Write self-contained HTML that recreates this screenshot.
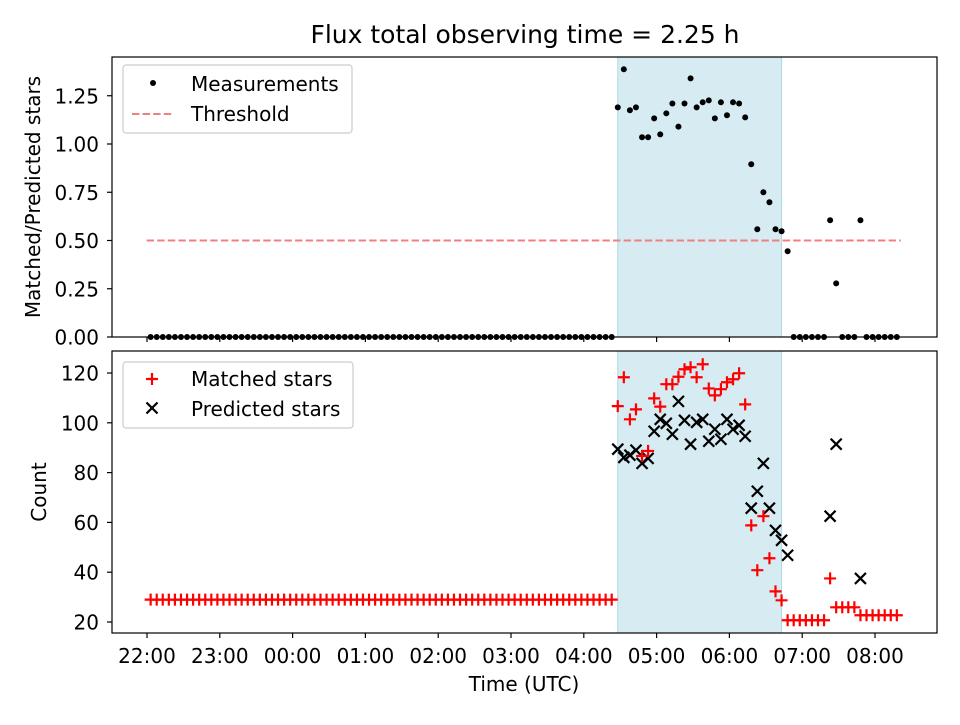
<!DOCTYPE html>
<html><head><meta charset="utf-8"><style>
body{margin:0;background:#fff;}
svg text{font-family:"DejaVu Sans","Liberation Sans",sans-serif;fill:#000;}
</style></head><body>
<svg id="chart" width="960" height="720" xmlns="http://www.w3.org/2000/svg"></svg>
<script>
const times=[3,8,13,18,23,28,33,38,43,48,53,58,63,68,73,78,83,88,93,98,103,108,113,118,123,128,133,138,143,148,153,158,163,168,173,178,183,188,193,198,203,208,213,218,223,228,233,238,243,248,253,258,263,268,273,278,283,288,293,298,303,308,313,318,323,328,333,338,343,348,353,358,363,368,373,378,383,388,393,398,403,408,413,418,423,428,433,438,443,448,453,458,463,468,473,478,483,488,493,498,503,508,513,518,523,528,533,538,543,548,553,558,563,568,573,578,583,588,593,598,603,608,613,618];
const ratioTail=[1.19,1.387,1.175,1.19,1.035,1.035,1.133,1.05,1.159,1.21,1.09,1.21,1.34,1.19,1.216,1.226,1.133,1.216,1.149,1.216,1.21,1.138,0.895,0.558,0.75,0.698,0.558,0.548,0.444,0,0,0,0,0,0,0.605,0.278,0,0,0,0.605,0,0,0,0,0,0];
const matchedTail=[106.7,118.3,101.4,105.4,86.7,88.7,109.8,106.5,115.5,115.5,118.5,121.5,122.3,118.3,123.5,113.8,111,113.5,116.3,117.5,119.9,107.4,58.8,40.8,62.5,45.6,32.3,28.7,20.7,20.7,20.7,20.7,20.7,20.7,20.7,37.5,25.9,25.9,25.9,25.9,22.7,22.7,22.7,22.7,22.7,22.7,22.7];
const predictedTail=[89.4,86.1,87,89,83.7,85.7,96.6,101.4,99.8,95.4,108.6,101,91.4,100.2,101.4,92.6,97.4,93.4,101.4,97.4,99,94.6,65.7,72.5,83.7,65.7,56.8,52.8,46.8,null,null,null,null,null,null,62.5,91.4,null,null,null,37.5,null,null,null,null,null,null];
const headCount=77;
const ratio=[],matched=[],predicted=[];
for(let i=0;i<headCount;i++){ratio.push(0);matched.push(29);predicted.push(null);}
ratio.push(...ratioTail);matched.push(...matchedTail);predicted.push(...predictedTail);
const threshold=0.5;
const shadeStart=388,shadeEnd=523;
const xTickMin=[0,60,120,180,240,300,360,420,480,540,600];
const xTickLabels=["22:00","23:00","00:00","01:00","02:00","03:00","04:00","05:00","06:00","07:00","08:00"];
const topTicks=[0,0.25,0.5,0.75,1.0,1.25];
const topTickLabels=["0.00","0.25","0.50","0.75","1.00","1.25"];
const botTicks=[20,40,60,80,100,120];

const NS="http://www.w3.org/2000/svg";
const svg=document.getElementById('chart');
function mk(tag,attrs,parent){const e=document.createElementNS(NS,tag);for(const k in attrs)e.setAttribute(k,attrs[k]);(parent||svg).appendChild(e);return e;}
const L=112,R=937;
const X=m=>147+m*72.8/60;
const T={top:57,bot:337};const B={top:351,bot:633};
const yTop=v=>337-v*193;
const yBot=v=>622-(v-20)*2.49;
const FS=20;

let s=mk('rect',{x:X(shadeStart),y:T.top,width:X(shadeEnd)-X(shadeStart),height:T.bot-T.top,fill:'#add8e6','fill-opacity':0.5,stroke:'#add8e6'});


s=mk('rect',{x:X(shadeStart),y:B.top,width:X(shadeEnd)-X(shadeStart),height:B.bot-B.top,fill:'#add8e6','fill-opacity':0.5,stroke:'#add8e6'});



let th=mk('line',{x1:X(times[0])-4,x2:X(times[times.length-1])+4,y1:yTop(threshold),y2:yTop(threshold),stroke:'#f08080','stroke-width':2,'stroke-dasharray':'7.4,3.2'});



const gM=mk('g',{});


times.forEach((t,i)=>{const c=mk('circle',{cx:X(t),cy:yTop(ratio[i]),r:3,fill:'#000'},gM);

});

const gP=mk('g',{stroke:'#000','stroke-width':2.2});


const gR=mk('g',{stroke:'#f00','stroke-width':2.2});


times.forEach((t,i)=>{
 const x=X(t);
 if(predicted[i]!==null){const y=yBot(predicted[i]);const p=mk('path',{d:`M${x-5.5},${y-5.5}L${x+5.5},${y+5.5}M${x-5.5},${y+5.5}L${x+5.5},${y-5.5}`},gP);
 
 }
 const y=yBot(matched[i]);const p=mk('path',{d:`M${x-6},${y}H${x+6}M${x},${y-6}V${y+6}`},gR);
 
 
});

let f=mk('rect',{x:L,y:T.top,width:R-L,height:T.bot-T.top,fill:'none',stroke:'#000','stroke-width':1.2});


f=mk('rect',{x:L,y:B.top,width:R-L,height:B.bot-B.top,fill:'none',stroke:'#000','stroke-width':1.2});



xTickMin.forEach((m,i)=>{const x=X(m);
 mk('line',{x1:x,x2:x,y1:T.bot,y2:T.bot+5,stroke:'#000','stroke-width':1.2});
 mk('line',{x1:x,x2:x,y1:B.bot,y2:B.bot+5,stroke:'#000','stroke-width':1.2});
 const t=mk('text',{x:x,y:B.bot+30,'font-size':FS,'text-anchor':'middle'});t.textContent=xTickLabels[i];
 
 });
topTicks.forEach((v,i)=>{const y=yTop(v);mk('line',{x1:L-5,x2:L,y1:y,y2:y,stroke:'#000','stroke-width':1.2});
 const t=mk('text',{x:L-13,y:y+7.5,'font-size':FS,'text-anchor':'end'});t.textContent=topTickLabels[i];
 
 });
botTicks.forEach(v=>{const y=yBot(v);mk('line',{x1:L-5,x2:L,y1:y,y2:y,stroke:'#000','stroke-width':1.2});
 const t=mk('text',{x:L-13,y:y+7.5,'font-size':FS,'text-anchor':'end'});t.textContent=v;
 
 });

let t=mk('text',{x:525,y:43,'font-size':25,'text-anchor':'middle'});t.textContent='Flux total observing time = 2.25 h';


t=mk('text',{x:524,y:691,'font-size':FS,'text-anchor':'middle'});t.textContent='Time (UTC)';


t=mk('text',{x:0,y:0,'font-size':FS,'text-anchor':'middle',transform:'translate(40,197) rotate(-90)'});t.textContent='Matched/Predicted stars';


t=mk('text',{x:0,y:0,'font-size':FS,'text-anchor':'middle',transform:'translate(46,492) rotate(-90)'});t.textContent='Count';



function legend(x,y,w,h,name){const g=mk('g',{});
 mk('rect',{x:x,y:y,width:w,height:h,rx:3,fill:'#fff','fill-opacity':0.8,stroke:'#ccc','stroke-width':1.2},g);return g;}
let g=legend(123,65,229,68,'top-legend');
mk('circle',{cx:153,cy:83,r:3,fill:'#000'},g);
t=mk('text',{x:191,y:91,'font-size':FS},g);t.textContent='Measurements';


mk('line',{x1:132,x2:174,y1:114,y2:114,stroke:'#f08080','stroke-width':2,'stroke-dasharray':'7.4,3.2'},g);
t=mk('text',{x:191,y:121,'font-size':FS},g);t.textContent='Threshold';


g=legend(123,362,230,66,'bottom-legend');
mk('path',{d:'M146,379H158M152,373V385',stroke:'#f00','stroke-width':2.2},g);
t=mk('text',{x:191,y:386,'font-size':FS},g);t.textContent='Matched stars';


mk('path',{d:'M146.5,402.5L157.5,413.5M146.5,413.5L157.5,402.5',stroke:'#000','stroke-width':2.2},g);
t=mk('text',{x:191,y:416,'font-size':FS},g);t.textContent='Predicted stars';


</script>
</body></html>
